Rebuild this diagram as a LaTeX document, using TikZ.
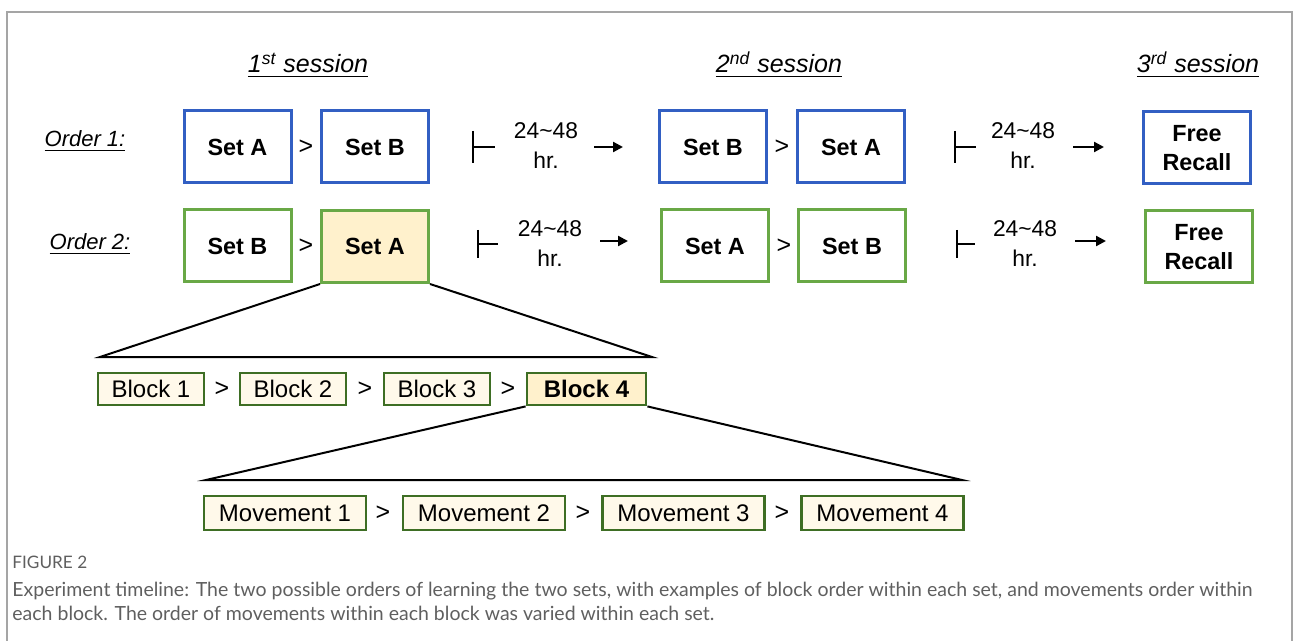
\documentclass[tikz,border=0pt]{standalone}
\usepackage{fontspec}
\setmainfont{Liberation Sans}
\newfontfamily\capfont{Lato}
\usetikzlibrary{arrows.meta}
\definecolor{setblue}{RGB}{50,95,195}
\definecolor{setgreen}{RGB}{105,168,70}
\definecolor{blockgreen}{RGB}{62,110,36}
\definecolor{lightcream}{RGB}{255,249,234}
\definecolor{cream}{RGB}{255,241,204}
\definecolor{framegray}{RGB}{165,165,165}
\definecolor{capgray}{RGB}{95,95,95}
\tikzset{
	setbox/.style={draw, line width=1.5pt, minimum width=53.5pt, minimum height=36pt, inner sep=0pt, align=center, font=\fontsize{11.7}{14.5}\selectfont\bfseries},
	blueset/.style={setbox, draw=setblue},
	greenset/.style={setbox, draw=setgreen},
	blockbox/.style={draw=blockgreen, line width=1.4pt, fill=lightcream, minimum height=16pt, inner sep=0pt, font=\fontsize{12}{14}\selectfont},
	gt/.style={inner sep=0pt, font=\fontsize{12.5}{14}\selectfont},
	gaptext/.style={inner sep=0pt, align=center, font=\fontsize{11.4}{15}\selectfont},
	session/.style={anchor=base, inner sep=0pt, font=\fontsize{12.5}{15}\selectfont\itshape},
	orderlabel/.style={anchor=base, inner sep=0pt, font=\fontsize{11}{13}\selectfont\itshape},
	captext/.style={anchor=base west, inner sep=0pt, text=capgray, font=\capfont\fontsize{9.75}{12}\selectfont},
}
\begin{document}
\begin{tikzpicture}[x=0.5pt, y=-0.5pt]
	\useasboundingbox (0,0) rectangle (1293,641);
	\draw [framegray, line width=0.7pt] (7,641) -- (7,12) -- (1292,12) -- (1292,641);
	% headers
	\node [session] (s1) at (308,73) {\underline{1\textsuperscript{st} session}};
	\node [session] (s2) at (779,73) {\underline{2\textsuperscript{nd} session}};
	\node [session] (s3) at (1198,73) {\underline{3\textsuperscript{rd} session}};
	\node [orderlabel] (o1) at (85,147) {\underline{Order 1:}};
	\node [orderlabel] (o2) at (90,250) {\underline{Order 2:}};
	% order 1
	\node [blueset] (A11) at (237.5,147) {Set A};
	\node [gt] (g11) at (306,147) {>};
	\node [blueset] (B11) at (375,147) {Set B};
	\node [gaptext] (t11) at (546,146) {24\textasciitilde48\\hr.};
	\draw [line width=1pt] (473,131) -- (473,163) (473,147) -- (495,147);
	\draw [line width=1.1pt, -{Triangle[length=5pt,width=5pt]}] (594,147) -- (623,147);
	\node [blueset] (B12) at (713,147) {Set B};
	\node [gt] (g12) at (782,147) {>};
	\node [blueset] (A12) at (851,147) {Set A};
	\node [gaptext] (t12) at (1023,146) {24\textasciitilde48\\hr.};
	\draw [line width=1pt] (955,131) -- (955,163) (955,147) -- (976,147);
	\draw [line width=1.1pt, -{Triangle[length=5pt,width=5pt]}] (1073,147) -- (1104,147);
	\node [blueset] (F1) at (1197,148) {Free\\Recall};
	% order 2
	\node [greenset] (B21) at (237.5,246) {Set B};
	\node [gt] (g21) at (306,246) {>};
	\node [greenset, fill=cream] (A21) at (375,246.5) {Set A};
	\node [gaptext] (t21) at (550,244) {24\textasciitilde48\\hr.};
	\draw [line width=1pt] (478,230) -- (478,258) (478,244) -- (498,244);
	\draw [line width=1.1pt, -{Triangle[length=5pt,width=5pt]}] (600,241) -- (628,241);
	\node [greenset] (A22) at (715,246) {Set A};
	\node [gt] (g22) at (784,246) {>};
	\node [greenset] (B22) at (852,246) {Set B};
	\node [gaptext] (t22) at (1025,244) {24\textasciitilde48\\hr.};
	\draw [line width=1pt] (957,230) -- (957,258) (957,244) -- (975,244);
	\draw [line width=1.1pt, -{Triangle[length=5pt,width=5pt]}] (1075,241) -- (1106,241);
	\node [greenset] (F2) at (1199,247) {Free\\Recall};
	% blocks of set A
	\coordinate (zl1) at (100,357);
	\coordinate (zr1) at (652,357);
	\draw [line width=1pt] (A21.south west) -- (zl1) -- (zr1) -- (A21.south east);
	\node [blockbox, minimum width=53pt] (b1) at (151,389) {Block 1};
	\node [gt] (h1) at (222,389) {>};
	\node [blockbox, minimum width=53pt] (b2) at (293,389) {Block 2};
	\node [gt] (h2) at (365,389) {>};
	\node [blockbox, minimum width=53pt] (b3) at (437,389) {Block 3};
	\node [gt] (h3) at (508,389) {>};
	\node [blockbox, minimum width=59.5pt, fill=cream, font=\fontsize{12}{14}\selectfont\bfseries] (b4) at (586.5,389) {Block 4};
	% movements of block 4
	\coordinate (zl2) at (206,480);
	\coordinate (zr2) at (962,480);
	\draw [line width=1pt] (b4.south west) -- (zl2) -- (zr2) -- (b4.south east);
	\node [blockbox, minimum width=81pt, minimum height=17pt] (m1) at (285,513) {Movement 1};
	\node [gt] (k1) at (383,513) {>};
	\node [blockbox, minimum width=81pt, minimum height=17pt] (m2) at (484,513) {Movement 2};
	\node [gt] (k2) at (583,513) {>};
	\node [blockbox, minimum width=81pt, minimum height=17pt] (m3) at (683.5,513) {Movement 3};
	\node [gt] (k3) at (782,513) {>};
	\node [blockbox, minimum width=81pt, minimum height=17pt] (m4) at (882.5,513) {Movement 4};
	% caption
	\node [captext, font=\capfont\fontsize{8.6}{10}\selectfont] (fig) at (12,568) {FIGURE 2};
	\node [captext] (cap1) at (12,596) {Experiment timeline: The two possible orders of learning the two sets, with examples of block order within each set, and movements order within};
	\node [captext] (cap2) at (12,620) {each block. The order of movements within each block was varied within each set.};
\end{tikzpicture}
\end{document}
